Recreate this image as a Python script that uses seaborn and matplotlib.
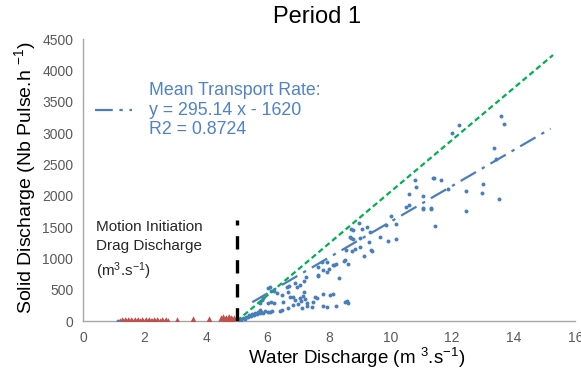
import pandas as pd
import matplotlib.pyplot as plt
import seaborn as sns

# blue points: measured solid discharge vs water discharge
blue_x = [1.14, 5.05, 5.1, 5.15, 5.2, 5.25, 5.3, 5.35, 5.4, 5.45, 5.5, 5.55, 5.6, 5.66, 5.7, 5.76, 5.8, 5.85,
          5.9, 5.76, 5.82, 5.85, 5.76, 6.0, 6.08, 6.15, 6.02, 6.08, 6.1, 6.2, 6.0, 6.1, 6.2, 6.3, 6.4, 6.47,
          6.47, 6.5, 6.63, 6.67, 6.67, 6.7, 6.73, 6.83, 6.83, 6.9, 6.9, 6.96, 7.0, 7.06, 7.06, 7.09, 7.12,
          7.15, 7.19, 7.19, 7.22, 7.25, 7.28, 7.28, 7.45, 7.48, 7.54, 7.61, 7.64, 7.64, 7.64, 7.77, 7.8, 7.8,
          7.8, 7.93, 7.93, 7.93, 8.0, 8.03, 8.13, 8.13, 8.17, 8.23, 8.23, 8.33, 8.49, 8.52, 8.55, 8.52, 8.58,
          8.6, 8.62, 8.68, 8.72, 8.72, 8.75, 8.78, 8.78, 8.85, 8.98, 9.0, 9.0, 9.07, 9.14, 9.24, 9.3, 9.33,
          9.37, 9.4, 9.66, 9.85, 9.92, 10.0, 10.18, 10.18, 10.5, 10.6, 10.6, 10.8, 10.83, 11.06, 11.06, 11.06,
          11.3, 11.3, 11.38, 11.41, 11.45, 11.64, 11.87, 12.0, 12.23, 12.46, 12.46, 12.98, 13.0, 13.37, 13.43,
          13.53, 13.59, 13.69]
blue_y = [0, 10, 30, 20, 50, 40, 70, 60, 90, 80, 110, 100, 120, 110, 140, 130, 150, 120,
          160, 175, 335, 367, 287, 144, 144, 160, 526, 542, 480, 480, 287, 300, 287, 446, 160, 180,
          415, 300, 542, 462, 207, 558, 383, 383, 250, 606, 335, 542, 271, 574, 367, 319, 207,
          399, 462, 638, 351, 702, 239, 287, 223, 303, 383, 367, 718, 861, 734, 941, 813, 431,
          239, 941, 781, 223, 829, 415, 893, 431, 893, 909, 239, 686, 957, 973, 1132, 303, 320,
          290, 909, 1340, 1467, 1324, 1116, 1308, 1451, 1150, 1563, 1180, 1324, 1467, 1037, 1500, 1260, 1420,
          1132, 1116, 1340, 1531, 1276, 1675, 1547, 1308, 1818, 1850, 2025, 2250, 2137, 1994, 1786, 1802,
          1802, 1786, 2280, 2280, 1515, 2250, 2105, 2998, 3126, 2073, 1754, 2041, 2185, 2760, 2584,
          1946, 3270, 3142]

# red triangles: below motion initiation
red_x = [1.2, 1.25, 1.3, 1.35, 1.4, 1.45, 1.5, 1.55, 1.6, 1.65, 1.7, 1.75, 1.8, 1.85, 1.9, 1.95, 2.0,
         2.05, 2.1, 2.15, 2.2, 2.25, 2.3, 2.35, 2.4, 2.45, 2.5, 2.55, 2.6, 2.65, 2.7, 2.75, 3.06, 3.58,
         4.1, 4.5, 4.55, 4.6, 4.65, 4.7, 4.75, 4.8, 4.85, 4.9]
red_y = [5, 10, 0, 15, 5, 10, 0, 12, 8, 5, 15, 0, 10, 5, 12, 8, 0,
         10, 5, 15, 8, 0, 12, 5, 10, 0, 8, 12, 5, 0, 10, 5, 20, 30,
         25, 50, 60, 40, 55, 45, 60, 50, 40, 55]

# fitted lines
trend_x = [5.5, 15.2]
trend_y = [300, 3070]
upper_x = [5.0, 15.28]
upper_y = [0, 4245]
threshold_x = [5.0, 5.0]
threshold_y = [0, 1610]

blue = "#4A7EBB"
red = "#C0504D"
green = "#00B050"
grey = "#A6A6A6"

sns.set_style("white")
plt.rcParams['font.family'] = ['Liberation Sans', 'DejaVu Sans']
plt.rcParams['mathtext.fontset'] = 'custom'
plt.rcParams['mathtext.rm'] = 'Liberation Sans'
plt.rcParams['mathtext.default'] = 'regular'

fig = plt.figure(figsize=(5.81, 3.79), dpi=100)
ax = fig.add_axes([0.143, 0.153, 0.847, 0.744])

df_blue = pd.DataFrame({"q": blue_x, "qs": blue_y})
df_red = pd.DataFrame({"q": red_x, "qs": red_y})

sns.scatterplot(data=df_red, x="q", y="qs", ax=ax, color=red, marker="^", s=22,
                linewidth=0, zorder=3)
sns.scatterplot(data=df_blue, x="q", y="qs", ax=ax, color=blue, marker="o", s=8,
                linewidth=0, zorder=3)

sns.lineplot(x=upper_x, y=upper_y, ax=ax, color=green, lw=1.6, zorder=4,
             dashes=False).lines[-1].set_dashes((2.5, 1.5))
ax.plot(threshold_x, threshold_y, color="black", lw=2.4, dashes=(4, 3.2), zorder=5)
ax.plot(trend_x, trend_y, color=blue, lw=1.6, dashes=(8, 3, 1.5, 3), zorder=4,
        label="Mean Transport Rate:\ny = 295.14 x - 1620\nR2 = 0.8724")

leg = ax.legend(loc="upper left", bbox_to_anchor=(95 / 581, 1 - 82 / 379),
                bbox_transform=fig.transFigure, borderaxespad=0, borderpad=0,
                frameon=False, fontsize=12.8, handlelength=2.1, handletextpad=0.95,
                labelcolor="#4F81CC")

ax.set_xlim(0, 16)
ax.set_ylim(0, 4500)
ax.set_xticks(range(0, 17, 2))
ax.set_yticks(range(0, 4501, 500))
ax.tick_params(axis="both", labelsize=10, colors="#595959", length=4, width=0.8,
               direction="out", pad=3)
for s in ["top", "right"]:
    ax.spines[s].set_visible(False)
for s in ["left", "bottom"]:
    ax.spines[s].set_color(grey)
    ax.spines[s].set_linewidth(1.0)
ax.set_xlabel("")
ax.set_ylabel("")

fig.text(96 / 581, 1 - 220 / 379, "Motion Initiation\nDrag Discharge\n(m$^{3}$.s$^{-1}$)", fontsize=11,
         color="#262626", va="top", ha="left", linespacing=1.45)

fig.text(317 / 581, 1 - 17 / 379, "Period 1", fontsize=17, ha="center", va="center", color="black")
fig.text(357 / 581, 1 - 358 / 379, "Water Discharge (m $^{3}$.s$^{-1}$)", fontsize=13.5,
         ha="center", va="center", color="black")
fig.text(25 / 581, 1 - 178 / 379, "Solid Discharge (Nb Pulse.h $^{-1}$)", fontsize=14,
         ha="center", va="center", rotation=90, color="black")

fig.savefig("out.png", dpi=100)
